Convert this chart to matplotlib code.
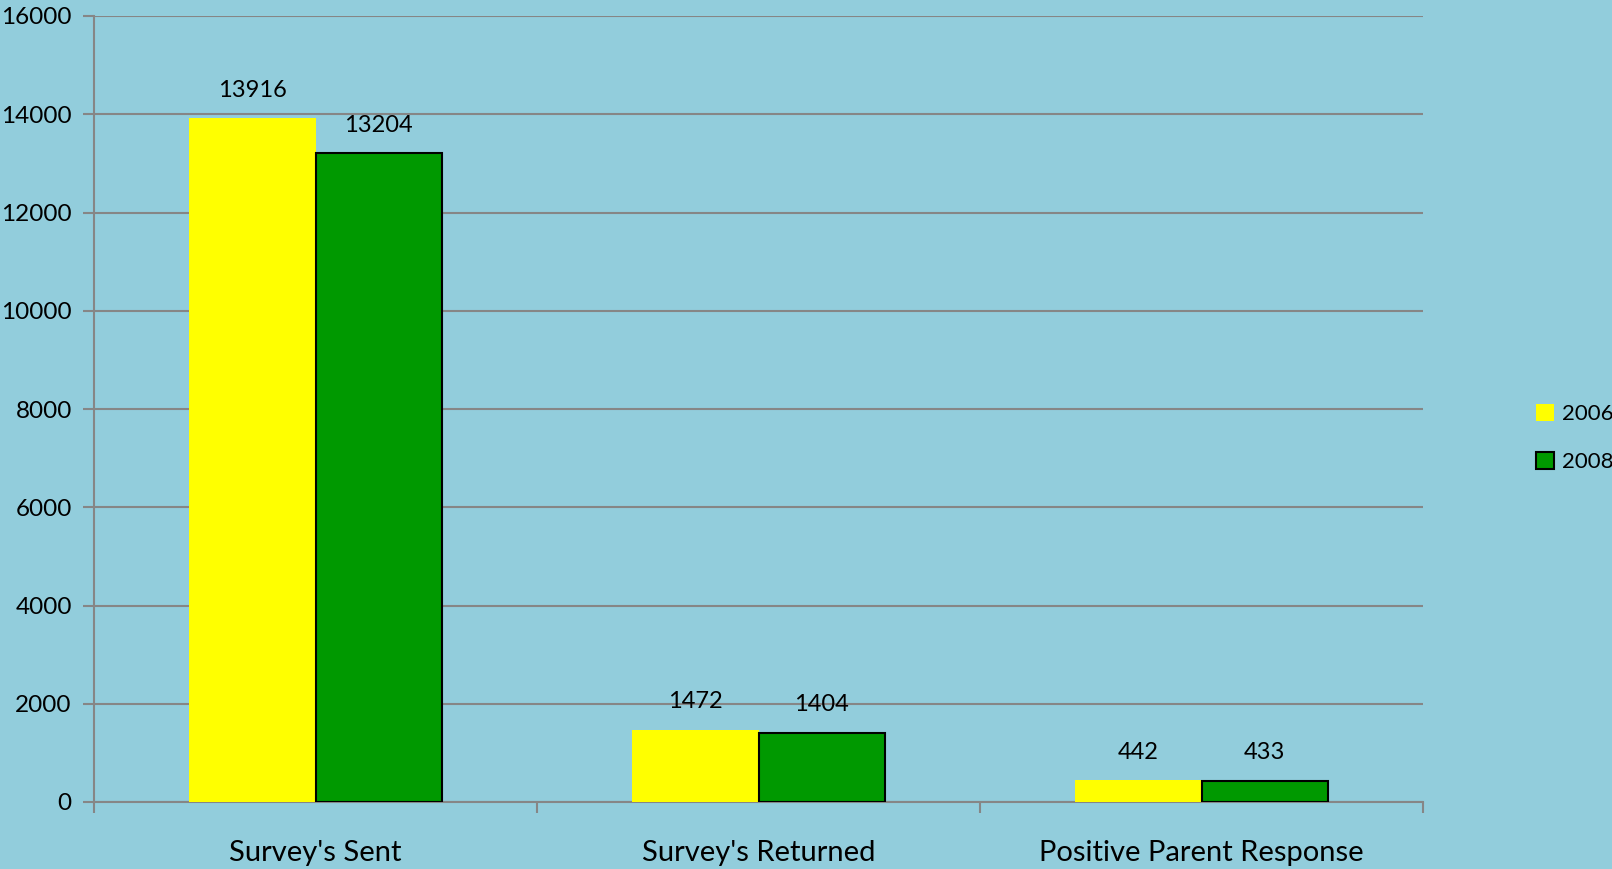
import numpy as np
import matplotlib.pyplot as plt
from matplotlib.patches import Patch

categories = ["Survey's Sent", "Survey's Returned", "Positive Parent Response"]
series_names = ["2006", "2008"]
values_2006 = [13916, 1472, 442]
values_2008 = [13204, 1404, 433]
y_ticks = [0, 2000, 4000, 6000, 8000, 10000, 12000, 14000, 16000]

bg = "#92CDDC"
grid_col = "#868686"
plt.rcParams['font.family'] = ['Lato', 'DejaVu Sans']

fig = plt.figure(figsize=(16.12, 8.69), dpi=100, facecolor=bg)
ax = fig.add_axes([94 / 1612, 1 - 802 / 869, (1423 - 94) / 1612, (802 - 16) / 869])
ax.set_facecolor(bg)

x = np.arange(len(categories))
w = 0.285
b1 = ax.bar(x - w / 2, values_2006, w, color="#FFFF00", edgecolor="none", zorder=3)
b2 = ax.bar(x + w / 2, values_2008, w, color="#009900", edgecolor="black", linewidth=1.5, zorder=3)

for bars, vals in [(b1, values_2006), (b2, values_2008)]:
    for r, v in zip(bars, vals):
        ax.text(r.get_x() + r.get_width() / 2, v + 360, str(v), ha="center", va="bottom",
                fontsize=17, color="black")

ax.set_xlim(-0.5, 2.5)
ax.set_ylim(0, 16000)
ax.set_yticks(y_ticks)
ax.set_yticklabels([str(t) for t in y_ticks], fontsize=17.5)
ax.yaxis.grid(True, color=grid_col, linewidth=1.5, zorder=0)
ax.tick_params(axis="y", length=8, width=1.5, color=grid_col, pad=8)

# category boundaries get the tick marks, labels sit at centers
ax.set_xticks([-0.5, 0.5, 1.5, 2.5])
ax.set_xticklabels([])
ax.tick_params(axis="x", length=8, width=1.5, color=grid_col)
ax.set_xticks(x, minor=True)
ax.set_xticklabels(categories, minor=True, fontsize=21)
ax.tick_params(axis="x", which="minor", length=0, pad=27)

for s in ["top", "right"]:
    ax.spines[s].set_visible(False)
for s in ["left", "bottom"]:
    ax.spines[s].set_color(grid_col)
    ax.spines[s].set_linewidth(1.5)

handles = [Patch(facecolor="#FFFF00", edgecolor="none"),
           Patch(facecolor="#009900", edgecolor="black", linewidth=1.5)]
fig.legend(handles, series_names, loc="center left", bbox_to_anchor=(1536 / 1612, 1 - 438 / 869),
           frameon=False, fontsize=16, handlelength=0.8, handleheight=0.8,
           handletextpad=0.35, labelspacing=1.25, borderaxespad=0, borderpad=0)

fig.savefig("out.png", dpi=100, facecolor=bg)
